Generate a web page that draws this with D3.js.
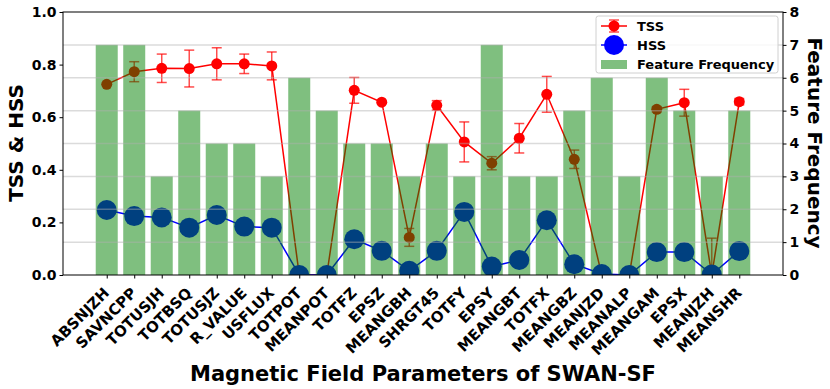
<!DOCTYPE html>
<html><head><meta charset="utf-8">
<script src="https://cdn.jsdelivr.net/npm/d3@7"></script>
<style>
html,body{margin:0;padding:0;background:#fff;}
text{font-family:"DejaVu Sans",sans-serif;font-weight:bold;}
</style></head>
<body><svg id="c" width="830" height="389"></svg>
<script>
const categories = ["ABSNJZH","SAVNCPP","TOTUSJH","TOTBSQ","TOTUSJZ","R_VALUE","USFLUX","TOTPOT","MEANPOT","TOTFZ","EPSZ","MEANGBH","SHRGT45","TOTFY","EPSY","MEANGBT","TOTFX","MEANGBZ","MEANJZD","MEANALP","MEANGAM","EPSX","MEANJZH","MEANSHR"];
const tss = [0.725,0.773,0.786,0.785,0.803,0.803,0.795,0.0,0.0,0.702,0.657,0.143,0.645,0.506,0.425,0.520,0.687,0.440,0.0,0.0,0.630,0.655,0.0,0.659];
const tssErr = [0.0,0.038,0.054,0.070,0.061,0.037,0.053,0.0,0.0,0.049,0.0,0.034,0.018,0.076,0.025,0.056,0.068,0.035,0.0,0.0,0.010,0.051,0.140,0.012];
const hss = [0.247,0.224,0.219,0.180,0.228,0.184,0.180,0.0,0.0,0.136,0.092,0.016,0.092,0.240,0.032,0.057,0.208,0.041,0.004,0.0,0.087,0.087,0.002,0.091];
const freq = [7,7,3,5,4,4,3,6,5,4,4,3,4,3,7,3,3,5,6,3,6,5,3,5];
const leftTicks = [0.0,0.2,0.4,0.6,0.8,1.0];
const rightTicks = [0,1,2,3,4,5,6,7,8];

const svg = d3.select("#c");
const L = 63, R = 783, T = 12, B = 275;
const n = categories.length;
const x = d3.scaleLinear().domain([-0.4 - 0.05*(n-1+0.8), n-1+0.4 + 0.05*(n-1+0.8)]).range([L, R]);
const yL = d3.scaleLinear().domain([0,1]).range([B, T]);
const yR = d3.scaleLinear().domain([0,8]).range([B, T]);
const bw = x(0.8) - x(0);

const defs = svg.append("defs");
defs.append("clipPath").attr("id","clip").append("rect").attr("x",L).attr("y",T).attr("width",R-L).attr("height",B-T);
const plot = svg.append("g").attr("clip-path","url(#clip)");

// TSS with error bars
const tssLine = d3.line().x((d,i)=>x(i)).y(d=>yL(d));
const eg = plot.append("g");
tss.forEach((v,i)=>{
  const e = tssErr[i];
  if (e<=0) return;
  const lo = yL(Math.max(v-e, -0.05)), hi = yL(v+e);
  eg.append("line").attr("x1",x(i)).attr("x2",x(i)).attr("y1",lo).attr("y2",hi).attr("stroke","#ff0000").attr("stroke-opacity",0.7).attr("stroke-width",1.5);
  [yL(v-e), hi].forEach(yy=>{
    eg.append("line").attr("x1",x(i)-5).attr("x2",x(i)+5).attr("y1",yy).attr("y2",yy).attr("stroke","#ff0000").attr("stroke-opacity",0.7).attr("stroke-width",1.5);
  });
});
plot.append("path").datum(tss).attr("d",tssLine).attr("fill","none").attr("stroke","#ff0000").attr("stroke-width",1.5);
plot.selectAll("circle.tss").data(tss).enter().append("circle").attr("class","tss")
  .attr("cx",(d,i)=>x(i)).attr("cy",d=>yL(d)).attr("r",5.5).attr("fill","#ff0000");

// HSS
plot.append("path").datum(hss).attr("d",tssLine).attr("fill","none").attr("stroke","#0000ff").attr("stroke-width",1.5);
plot.selectAll("circle.hss").data(hss).enter().append("circle").attr("class","hss")
  .attr("cx",(d,i)=>x(i)).attr("cy",d=>yL(d)).attr("r",10).attr("fill","#0000ff");

// Bars (on top, semi-transparent)
plot.selectAll("rect.bar").data(freq).enter().append("rect").attr("class","bar")
  .attr("x",(d,i)=>x(i)-bw/2).attr("width",bw).attr("y",d=>yR(d)).attr("height",d=>B-yR(d))
  .attr("fill","#008000").attr("fill-opacity",0.5);

// Grid (right axis)
svg.append("g").selectAll("line").data(rightTicks.slice(1,8)).enter().append("line")
  .attr("x1",L).attr("x2",R).attr("y1",d=>yR(d)).attr("y2",d=>yR(d))
  .attr("stroke","#b0b0b0").attr("stroke-opacity",0.45).attr("stroke-width",1.5);

// Frame
svg.append("rect").attr("x",L).attr("y",T).attr("width",R-L).attr("height",B-T).attr("fill","none").attr("stroke","#000").attr("stroke-width",1);

// Axes
const axL = svg.append("g").attr("transform",`translate(${L},0)`)
  .call(d3.axisLeft(yL).tickValues(leftTicks).tickFormat(d3.format(".1f")).tickSize(3.5).tickPadding(3));
const axR = svg.append("g").attr("transform",`translate(${R},0)`)
  .call(d3.axisRight(yR).tickValues(rightTicks).tickFormat(d3.format("d")).tickSize(3.5).tickPadding(3));
const axB = svg.append("g").attr("transform",`translate(0,${B})`)
  .call(d3.axisBottom(x).tickValues(d3.range(n)).tickFormat(i=>categories[i]).tickSize(3.5).tickPadding(3));
[axL,axR,axB].forEach(a=>{
  a.select(".domain").remove();
  a.selectAll("line").attr("stroke","#000");
  a.selectAll("text").attr("font-size",14).attr("font-family","DejaVu Sans").attr("font-weight","bold").attr("fill","#000");
});
axB.selectAll("text").attr("font-size",15).attr("text-anchor","end").attr("dy",null).attr("y",null)
  .attr("dominant-baseline","hanging")
  .attr("transform","translate(-5,11) rotate(-45)");

// Axis titles
svg.append("text").attr("transform","translate(23,143) rotate(-90)").attr("text-anchor","middle")
  .attr("font-size",20).text("TSS & HSS");
svg.append("text").attr("transform","translate(808,143) rotate(90)").attr("text-anchor","middle")
  .attr("font-size",20).text("Feature Frequency");
svg.append("text").attr("x",423).attr("y",381).attr("text-anchor","middle")
  .attr("font-size",21).text("Magnetic Field Parameters of SWAN-SF");

// Legend
const lg = svg.append("g");
lg.append("rect").attr("x",596).attr("y",16).attr("width",182).attr("height",57).attr("rx",2.5)
  .attr("fill","#fff").attr("fill-opacity",0.8).attr("stroke","#d0d0d0");
const lx1 = 601, lx2 = 627, lxm = 614;
// TSS
lg.append("line").attr("x1",lx1).attr("x2",lx2).attr("y1",26).attr("y2",26).attr("stroke","#ff0000").attr("stroke-width",1.5);
lg.append("line").attr("x1",lxm).attr("x2",lxm).attr("y1",20).attr("y2",32).attr("stroke","#ff0000").attr("stroke-opacity",0.7).attr("stroke-width",1.5);
[20,32].forEach(yy=>lg.append("line").attr("x1",lxm-5).attr("x2",lxm+5).attr("y1",yy).attr("y2",yy).attr("stroke","#ff0000").attr("stroke-opacity",0.7).attr("stroke-width",1.5));
lg.append("circle").attr("cx",lxm).attr("cy",26).attr("r",5.5).attr("fill","#ff0000");
lg.append("text").attr("x",637).attr("y",31).attr("font-size",13).text("TSS");
// HSS
lg.append("line").attr("x1",lx1).attr("x2",lx2).attr("y1",45).attr("y2",45).attr("stroke","#0000ff").attr("stroke-width",1.5);
lg.append("circle").attr("cx",lxm).attr("cy",45).attr("r",10).attr("fill","#0000ff");
lg.append("text").attr("x",637).attr("y",50).attr("font-size",13).text("HSS");
// Feature Frequency
lg.append("rect").attr("x",601).attr("y",60).attr("width",26).attr("height",9).attr("fill","#008000").attr("fill-opacity",0.5);
lg.append("text").attr("x",637).attr("y",69).attr("font-size",13).text("Feature Frequency");
</script></body></html>
